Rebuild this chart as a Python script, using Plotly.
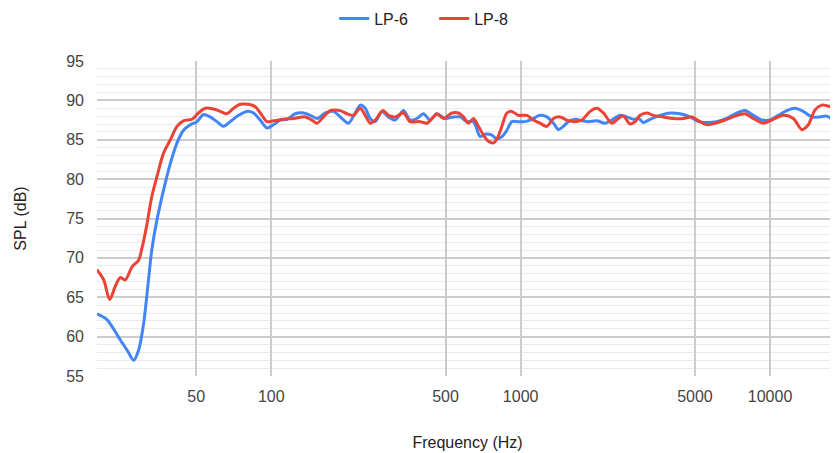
import plotly.graph_objects as go

# LP-6 (blue)
freq_lp6 = [20.0, 21.9, 23.3, 24.8, 26.4, 28.1, 29.4, 30.8, 32.2, 33.2, 34.8, 37.0, 39.4, 41.9,
            44.5, 47.4, 50.4, 53.5, 56.9, 60.6, 64.4, 68.5, 73.9, 79.9, 84.9, 90.3, 96.1, 102.1,
            108.7, 115.6, 124.8, 134.7, 143.3, 152.5, 164.6, 177.7, 192.1, 204.1, 217.1, 227.3,
            238.1, 249.4, 261.2, 277.8, 295.2, 314.1, 339.1, 360.6, 383.7, 407.8, 433.8, 461.5,
            498.3, 538.0, 572.3, 608.7, 647.0, 688.2, 720.6, 766.6, 802.8, 840.7, 880.5, 922.0,
            979.9, 1042, 1109, 1197, 1274, 1354, 1418, 1484, 1555, 1654, 1760, 1870, 2020, 2182,
            2320, 2505, 2665, 2833, 2977, 3106, 3304, 3624, 3975, 4358, 4778, 5159, 5576, 6115,
            6705, 7238, 7939, 8573, 9264, 10000, 10796, 11666, 12596, 13600, 14697, 15864, 16878,
            17937, 18731, 20000]
spl_lp6 = [62.9, 62.2, 61.0, 59.6, 58.3, 57.0, 58.3, 61.7, 67.2, 71.0, 74.8, 78.6, 82.0, 84.6,
           86.2, 86.9, 87.3, 88.2, 87.9, 87.3, 86.7, 87.3, 88.1, 88.6, 88.4, 87.5, 86.5, 86.9,
           87.5, 87.6, 88.3, 88.4, 88.1, 87.7, 88.4, 88.6, 87.7, 87.1, 88.4, 89.4,
           89.0, 87.7, 87.3, 88.6, 87.9, 87.5, 88.7, 87.5, 87.7, 88.3, 87.5, 88.3,
           87.7, 87.9, 87.9, 87.3, 87.3, 85.4, 85.7, 85.6, 85.1, 85.4, 86.2, 87.3,
           87.3, 87.3, 87.6, 88.1, 87.9, 87.1, 86.3, 86.7, 87.3, 87.6, 87.4, 87.3, 87.4, 87.1,
           87.5, 88.1, 87.9, 87.6, 87.7, 87.2, 87.6, 88.1, 88.4, 88.3, 87.9, 87.3, 87.2, 87.3,
           87.7, 88.3, 88.7, 88.1, 87.5, 87.5, 88.1, 88.7, 89.0, 88.6, 87.9, 87.9, 88.0,
           87.5, 87.1, 86.6]

# LP-8 (red)
freq_lp8 = [20.0, 21.3, 22.5, 23.7, 24.8, 26.0, 27.7, 29.4, 30.3, 31.8, 33.2, 34.8, 37.0, 39.4,
            41.9, 44.5, 48.1, 51.1, 54.4, 58.7, 62.5, 66.4, 70.6, 75.1, 81.1, 86.3, 91.8, 96.1,
            102.1, 112.0, 122.9, 136.9, 145.6, 152.5, 162.0, 172.4, 189.1, 201.1, 213.8, 227.3,
            238.1, 249.4, 261.2, 280.4, 295.2, 314.1, 339.1, 360.6, 395.6, 420.8, 447.2, 461.5,
            490.5, 530.0, 563.4, 589.9, 617.7, 647.0, 677.5, 709.4, 742.9, 778.0, 807.3, 840.7,
            880.5, 922.0, 979.9, 1059, 1125, 1197, 1274, 1354, 1440, 1532, 1654, 1760, 1899,
            2020, 2147, 2320, 2466, 2582, 2748, 2877, 3013, 3205, 3407, 3736, 4097, 4493, 4856,
            5241, 5576, 6020, 6600, 7238, 7939, 8573, 9401, 10309, 11306, 12400, 13400, 14240,
            15150, 16115, 17400, 18731, 20000]
spl_lp8 = [68.5, 67.2, 64.7, 66.4, 67.5, 67.2, 68.9, 69.7, 71.2, 74.4, 77.8, 80.3, 83.3, 85.0,
           86.7, 87.4, 87.6, 88.4, 89.0, 88.9, 88.6, 88.3, 89.0, 89.5, 89.5, 89.2, 88.1, 87.3,
           87.4, 87.6, 87.7, 87.9, 87.5, 87.1, 87.9, 88.7, 88.7, 88.3, 88.1, 89.0,
           88.1, 87.1, 87.5, 88.7, 88.1, 87.9, 88.4, 87.3, 87.3, 87.1, 87.9, 88.3,
           87.7, 88.4, 88.4, 87.9, 87.1, 87.7, 86.7, 85.6, 84.8, 84.6, 85.2, 86.7,
           88.4, 88.6, 88.1, 88.1, 87.5, 87.1, 86.7, 87.7, 87.9, 87.5, 87.3, 87.5, 88.6,
           89.0, 88.4, 87.1, 87.7, 88.0, 87.0, 87.3, 88.1, 88.4, 88.1, 87.9, 87.7, 87.7, 87.9,
           87.3, 86.9, 87.1, 87.5, 88.0, 88.3, 87.7, 87.1, 87.6, 88.1, 87.7, 86.3, 86.9,
           88.8, 89.4, 89.2, 88.6, 88.0]

x_ticks = [50, 100, 500, 1000, 5000, 10000]
x_tick_text = ["50", "100", "500", "1000", "5000", "10000"]
y_ticks = [55, 60, 65, 70, 75, 80, 85, 90, 95]

FONT = "Liberation Sans, Arial, sans-serif"

fig = go.Figure()
fig.add_trace(go.Scatter(x=freq_lp6, y=spl_lp6, name="LP-6", mode="lines",
                         line=dict(color="#4285F4", width=3, shape="spline", smoothing=0.8)))
fig.add_trace(go.Scatter(x=freq_lp8, y=spl_lp8, name="LP-8", mode="lines",
                         line=dict(color="#EA4335", width=3, shape="spline", smoothing=0.8)))

# the page body has an 8px margin, so the figure is sized/offset to compensate
fig.update_layout(
    width=830, height=445,
    margin=dict(l=89, r=0, t=53, b=77),
    paper_bgcolor="white", plot_bgcolor="white",
    font=dict(family=FONT, size=16, color="#222222"),
    showlegend=True,
    legend=dict(orientation="h", xref="container", x=0.393, xanchor="left",
                yref="container", y=0.976, yanchor="middle",
                entrywidth=55, entrywidthmode="pixels",
                font=dict(size=16, color="#222222"), itemwidth=30),
    xaxis=dict(
        type="log", range=[1.3014, 4.2725],
        tickvals=x_ticks, ticktext=x_tick_text,
        showgrid=True, gridcolor="#cccccc", gridwidth=1.5,
        zeroline=False, showline=False, ticks="",
        ticklabelstandoff=9,
        tickfont=dict(size=16, color="#444444"),
        title=dict(text="Frequency (Hz)", standoff=32, font=dict(size=16, color="#222222")),
    ),
    yaxis=dict(
        range=[55, 95], tickvals=y_ticks,
        showgrid=True, gridcolor="#cccccc", gridwidth=1.5,
        zeroline=False, showline=False, ticks="",
        ticklabelstandoff=12,
        tickfont=dict(size=16, color="#444444"),
        minor=dict(dtick=1, showgrid=True, gridcolor="#ebebeb", gridwidth=1),
        title=dict(text="SPL (dB)", standoff=35, font=dict(size=16, color="#222222")),
    ),
)

fig.write_html("out.html")
